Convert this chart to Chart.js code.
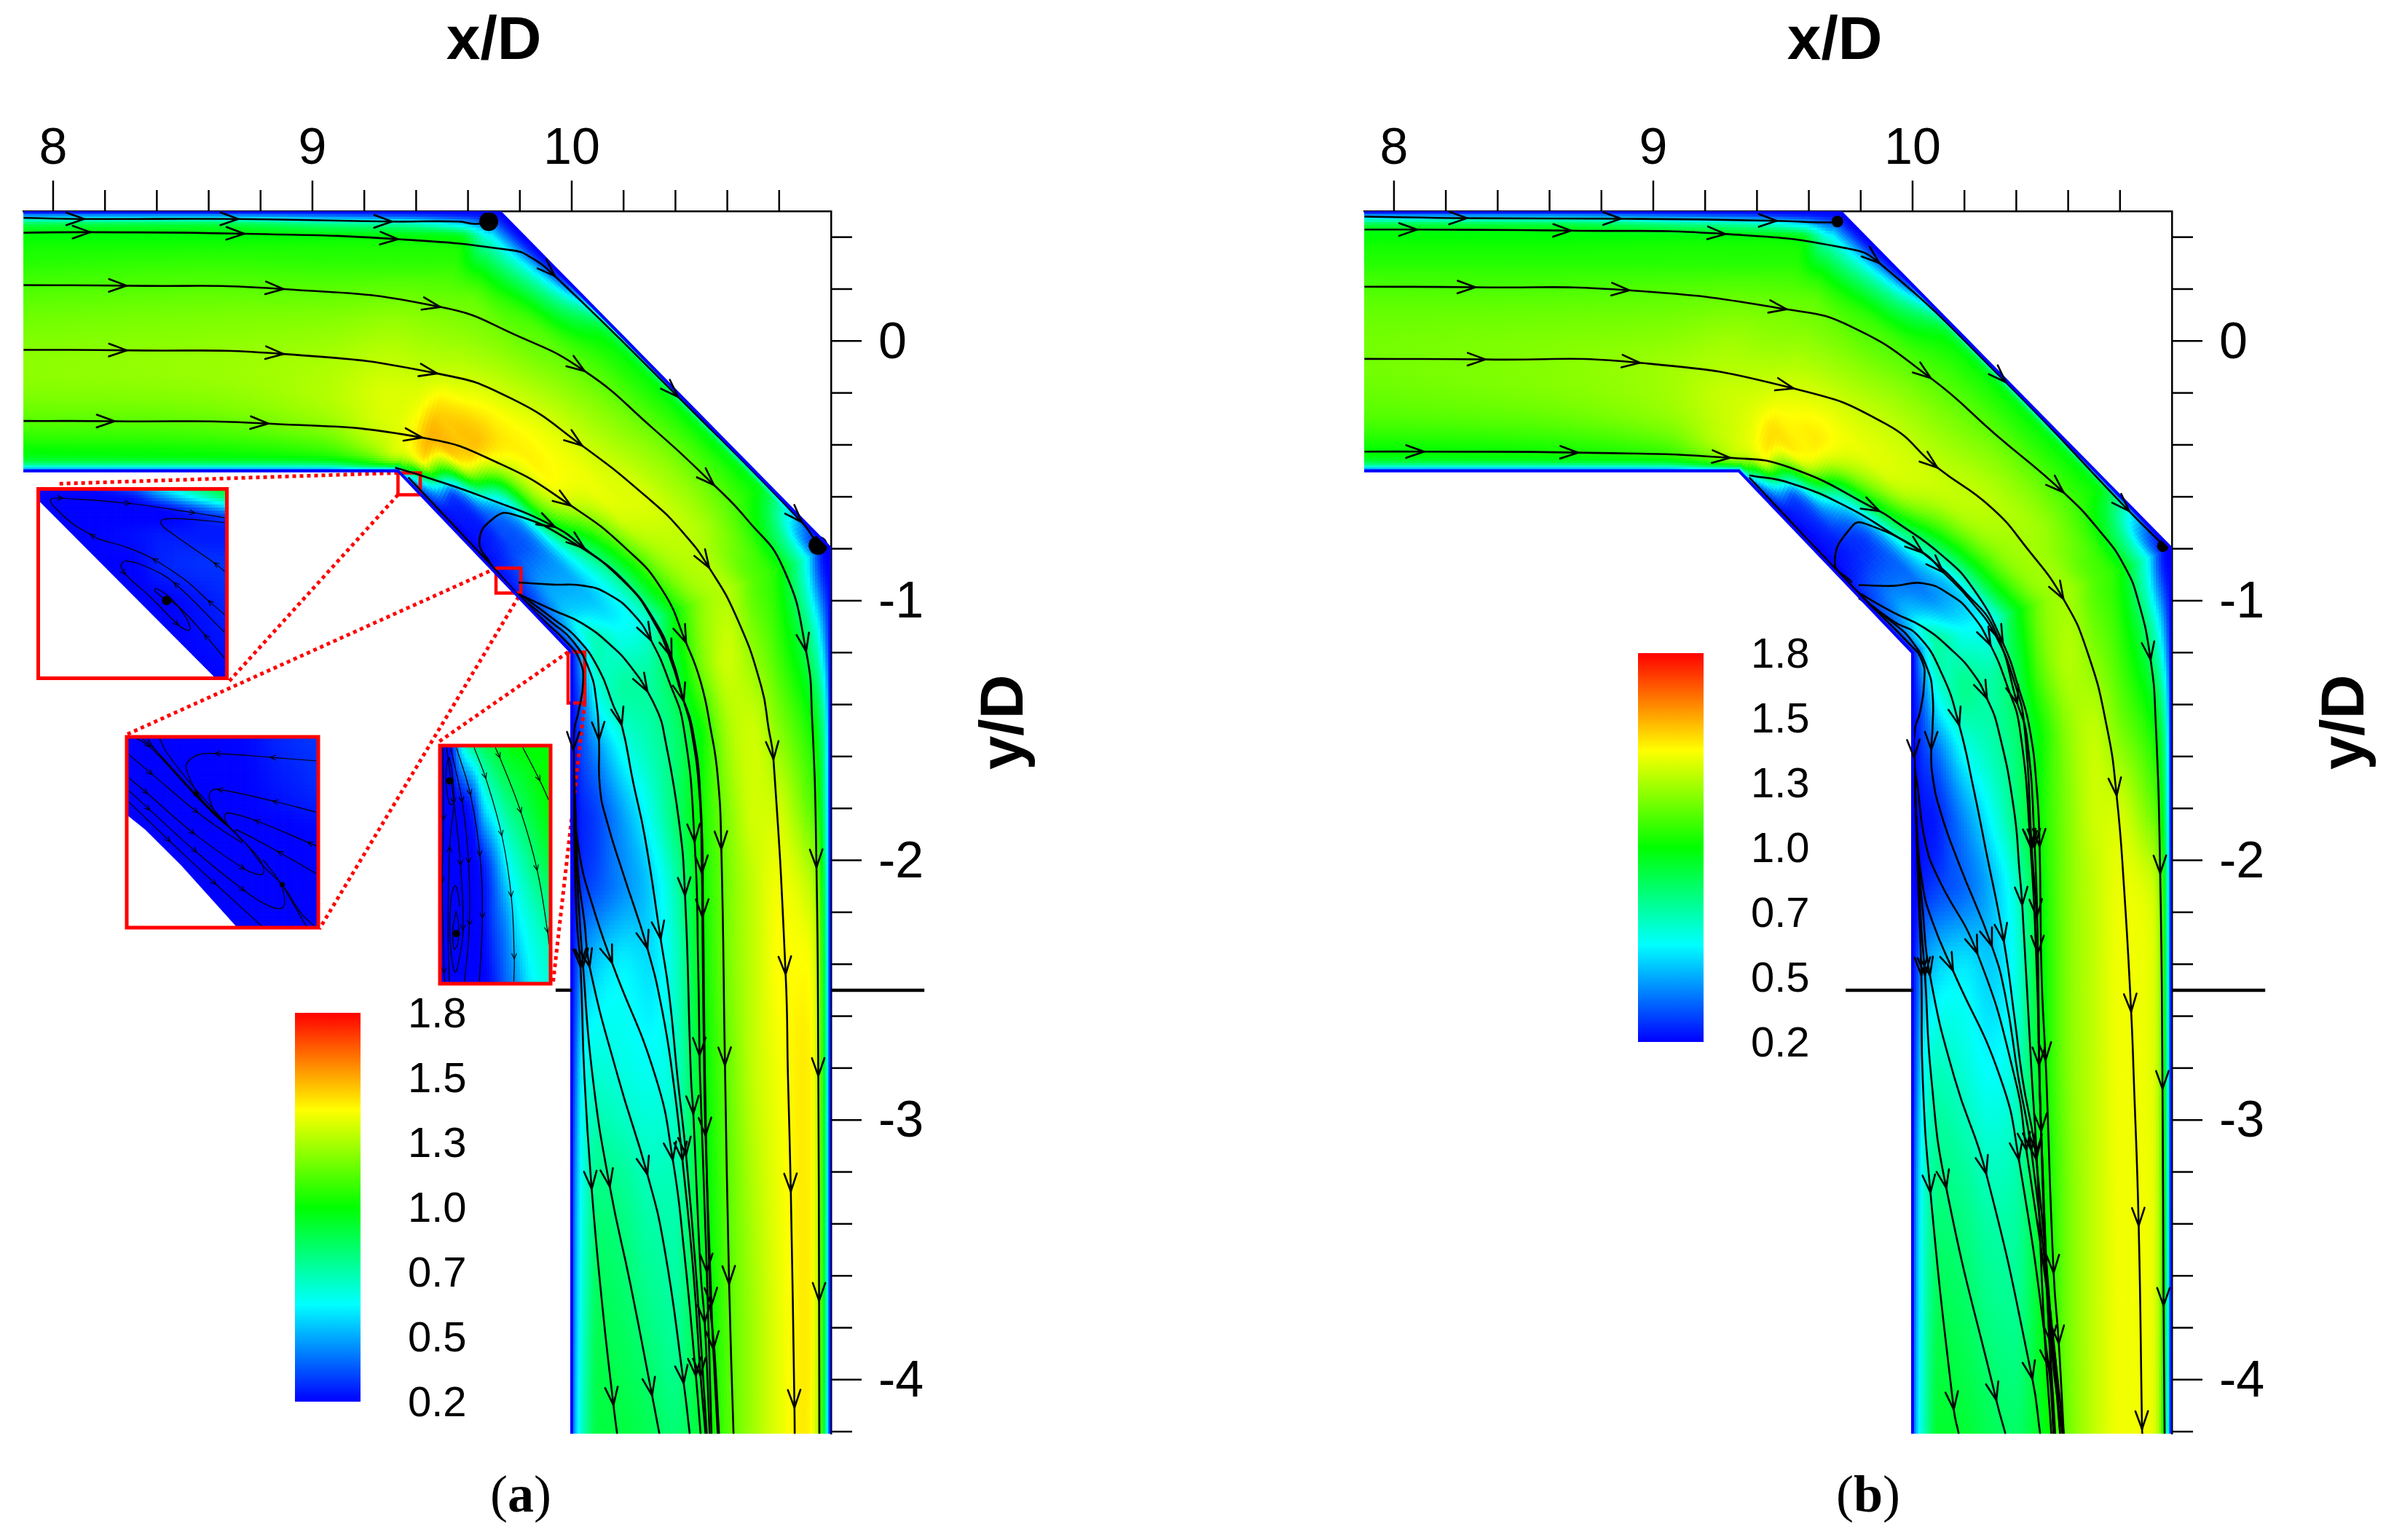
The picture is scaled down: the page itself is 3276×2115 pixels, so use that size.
<!DOCTYPE html>
<html>
<head>
<meta charset="utf-8">
<script src="https://cdn.jsdelivr.net/npm/chart.js@4"></script>
<style>
  html, body { margin: 0; background: #fff; width: 3276px; height: 2115px; overflow: hidden; }
  canvas { position: absolute; }
  .cap { position: absolute; top: 2011px; font: 72px "Liberation Serif"; color: #000; }
</style>
</head>
<body>
<canvas id="panelA" width="1638" height="2115" style="left:0;top:0"></canvas>
<canvas id="panelB" width="1638" height="2115" style="left:1638px;top:0"></canvas>
<canvas id="barA" width="300" height="640" style="left:395px;top:1340px"></canvas>
<canvas id="barB" width="300" height="640" style="left:2239px;top:846px"></canvas>
<canvas id="inset1" width="272" height="273" style="left:46px;top:665px"></canvas>
<canvas id="inset2" width="271" height="270" style="left:170px;top:1008px"></canvas>
<canvas id="inset3" width="162" height="337" style="left:599px;top:1019px"></canvas>
<div class="cap" style="left:673px">(<b>a</b>)</div>
<div class="cap" style="left:2521px">(<b>b</b>)</div>
<script>
// ============================================
// Axis data
// ============================================
const xTicks = [8, 8.2, 8.4, 8.6, 8.8, 9, 9.2, 9.4, 9.6, 9.8, 10, 10.2, 10.4, 10.6, 10.8];
const yTicks = [0.4, 0.2, 0, -0.2, -0.4, -0.6, -0.8, -1, -1.2, -1.4, -1.6, -1.8, -2, -2.2, -2.4, -2.6, -2.8, -3, -3.2, -3.4, -3.6, -3.8, -4, -4.2];
const barTicks = [0.2, 0.467, 0.733, 1, 1.267, 1.533, 1.8];
const gaugeY = -2.5;

// ============================================
// Channel walls and mesh stations (x/D, y/D)
// ============================================
const innerWall = [[7.885, -0.5], [9.33, -0.5], [10, -1.2], [10, -4.208]];
const outerWall = [[7.885, 0.5], [9.72, 0.5], [11, -0.8], [11, -4.208]];
const stationInner = [[7.885, -0.5], [8.6, -0.5], [9.05, -0.5], [9.2, -0.5], [9.33, -0.5], [9.4, -0.573], [9.5, -0.677], [9.6, -0.78], [9.7, -0.887], [9.8, -0.99], [9.9, -1.096], [10, -1.2], [10, -1.4], [10, -1.6], [10, -1.85], [10, -2.1], [10, -2.4], [10, -2.8], [10, -3.3], [10, -3.8], [10, -4.208]];
const stationOuter = [[7.885, 0.5], [8.6, 0.5], [9.05, 0.5], [9.4, 0.5], [9.6, 0.5], [9.72, 0.5], [9.95, 0.27], [10.15, 0.07], [10.35, -0.135], [10.55, -0.34], [10.75, -0.545], [11, -0.8], [11, -1.1], [11, -1.45], [11, -1.8], [11, -2.1], [11, -2.4], [11, -2.8], [11, -3.3], [11, -3.8], [11, -4.208]];
const acrossFrac = [0, 0.015, 0.04, 0.1, 0.2, 0.3, 0.4, 0.5, 0.6, 0.7, 0.8, 0.9, 0.95, 0.98, 1];

// velocity magnitude, one row per station, inner wall to outer wall
const fieldA = [
  [.2, .6, .9, 1.03, 1.14, 1.2, 1.22, 1.2, 1.17, 1.12, 1.06, 1.0, .88, .5, .2],
  [.2, .6, .92, 1.05, 1.16, 1.22, 1.24, 1.22, 1.19, 1.14, 1.08, 1.0, .9, .5, .2],
  [.2, .62, .95, 1.12, 1.24, 1.28, 1.27, 1.24, 1.2, 1.14, 1.07, 1.0, .8, .42, .2],
  [.2, .75, 1.05, 1.25, 1.33, 1.34, 1.31, 1.27, 1.22, 1.15, 1.07, 1.0, .72, .35, .2],
  [.2, .8, 1.2, 1.38, 1.38, 1.35, 1.3, 1.25, 1.2, 1.14, 1.07, .98, .55, .28, .2],
  [.25, .4, .7, 1.42, 1.52, 1.45, 1.33, 1.26, 1.2, 1.14, .96, .65, .38, .24, .2],
  [.2, .22, .25, .35, 1.35, 1.5, 1.43, 1.33, 1.25, 1.17, 1.08, .8, .55, .3, .2],
  [.2, .2, .22, .26, .6, 1.22, 1.42, 1.38, 1.3, 1.22, 1.14, 1.03, .96, .8, .25],
  [.22, .22, .24, .3, .4, 1.1, 1.37, 1.38, 1.32, 1.25, 1.17, 1.06, 1.0, .85, .25],
  [.22, .25, .3, .42, .45, .8, 1.12, 1.34, 1.35, 1.28, 1.2, 1.08, 1.0, .88, .25],
  [.22, .3, .38, .52, .5, .68, 1.0, 1.24, 1.3, 1.27, 1.17, 1.06, 1.0, .9, .25],
  [.2, .3, .48, .72, .62, .68, 1.0, 1.22, 1.28, 1.14, 1.02, .65, .32, .2, .2],
  [.2, .25, .35, .62, .75, .75, .9, 1.18, 1.32, 1.22, 1.08, .85, .62, .38, .2],
  [.2, .22, .3, .42, .62, .72, .82, 1.0, 1.25, 1.32, 1.2, 1.05, .92, .65, .2],
  [.2, .2, .25, .3, .45, .62, .82, 1.02, 1.2, 1.33, 1.33, 1.18, 1.06, .72, .2],
  [.2, .22, .28, .33, .42, .52, .72, 1.0, 1.18, 1.3, 1.38, 1.32, 1.2, .78, .2],
  [.2, .28, .42, .52, .58, .55, .68, .98, 1.18, 1.3, 1.4, 1.4, 1.28, .8, .2],
  [.2, .35, .58, .66, .64, .62, .68, .96, 1.15, 1.3, 1.38, 1.43, 1.3, .82, .2],
  [.2, .42, .62, .8, .78, .72, .72, .94, 1.13, 1.27, 1.37, 1.43, 1.3, .82, .2],
  [.2, .45, .65, .87, .85, .8, .76, .93, 1.12, 1.25, 1.36, 1.43, 1.3, .82, .2],
  [.2, .48, .68, .9, .9, .87, .82, .93, 1.12, 1.25, 1.36, 1.43, 1.28, .8, .2]
];
const fieldB = [
  [.2, .6, .92, 1.02, 1.12, 1.16, 1.18, 1.18, 1.16, 1.12, 1.06, 1.0, .88, .5, .2],
  [.2, .6, .95, 1.05, 1.15, 1.2, 1.21, 1.2, 1.17, 1.12, 1.06, 1.0, .9, .5, .2],
  [.2, .62, .98, 1.12, 1.22, 1.25, 1.25, 1.22, 1.18, 1.13, 1.06, 1.0, .8, .42, .2],
  [.2, .75, 1.08, 1.25, 1.3, 1.31, 1.28, 1.25, 1.2, 1.14, 1.06, 1.0, .72, .35, .2],
  [.2, .82, 1.2, 1.35, 1.36, 1.33, 1.28, 1.23, 1.19, 1.13, 1.06, .98, .55, .28, .2],
  [.25, .4, .7, 1.36, 1.45, 1.38, 1.31, 1.25, 1.19, 1.13, .96, .65, .38, .24, .2],
  [.2, .22, .26, .4, 1.28, 1.43, 1.38, 1.3, 1.23, 1.15, 1.06, .8, .55, .3, .2],
  [.2, .2, .22, .3, .65, 1.18, 1.36, 1.33, 1.27, 1.2, 1.12, 1.03, .96, .8, .25],
  [.2, .2, .22, .25, .36, .95, 1.28, 1.33, 1.28, 1.22, 1.15, 1.06, 1.0, .85, .25],
  [.22, .25, .3, .35, .36, .72, 1.06, 1.27, 1.3, 1.25, 1.17, 1.06, 1.0, .88, .25],
  [.22, .3, .38, .5, .42, .55, .95, 1.2, 1.26, 1.24, 1.15, 1.05, 1.0, .9, .25],
  [.2, .3, .5, .75, .62, .6, .95, 1.2, 1.25, 1.13, 1.02, .65, .32, .2, .2],
  [.2, .25, .35, .62, .78, .74, .88, 1.15, 1.28, 1.2, 1.08, .85, .62, .38, .2],
  [.2, .22, .28, .38, .62, .72, .82, 1.02, 1.22, 1.3, 1.18, 1.05, .92, .65, .2],
  [.2, .2, .22, .25, .42, .6, .8, 1.03, 1.2, 1.32, 1.33, 1.2, 1.08, .75, .2],
  [.2, .2, .25, .3, .36, .48, .68, 1.0, 1.2, 1.3, 1.37, 1.34, 1.24, .82, .2],
  [.2, .28, .42, .52, .56, .52, .64, .98, 1.2, 1.3, 1.38, 1.37, 1.28, .82, .2],
  [.2, .35, .58, .7, .66, .6, .68, .98, 1.2, 1.3, 1.38, 1.37, 1.28, .82, .2],
  [.2, .42, .64, .8, .78, .72, .74, .96, 1.18, 1.3, 1.38, 1.38, 1.28, .82, .2],
  [.2, .45, .66, .88, .86, .8, .78, .96, 1.18, 1.3, 1.38, 1.38, 1.28, .82, .2],
  [.2, .48, .68, .93, .92, .87, .84, .96, 1.17, 1.3, 1.38, 1.38, 1.27, .8, .2]
];

// ============================================
// Streamlines of panel (a). A third element marks an arrow head
// ============================================
const a1 = [[7.886, .474], [8.12, .47, 1], [8.714, .47, 1], [9.307, .46, 1], [9.563, .46], [9.63, .451], [9.68, .46]];
const a2 = [[7.886, .417], [8.144, .419, 1], [8.737, .413, 1], [9.33, .392, 1], [9.772, .349], [9.842, .322], [9.935, .25, 1], [10.41, -.215, 1], [10.888, -.698, 1], [10.95, -.787]];
const a3 = [[7.886, .215], [8.284, .213, 1], [8.888, .2, 1], [9.493, .131, 1], [9.795, .018], [10.05, -.116, 1], [10.307, -.331], [10.549, -.555, 1], [10.675, -.686], [10.815, -.873], [10.904, -1.195, 1], [10.927, -1.452], [10.944, -2.027, 1], [10.951, -2.83, 1], [10.954, -3.696, 1], [10.955, -4.208]];
const a4 = [[7.886, -.034], [8.284, -.036, 1], [8.888, -.05, 1], [9.481, -.125, 1], [9.772, -.224], [10.04, -.403, 1], [10.301, -.611], [10.432, -.741], [10.53, -.873, 1], [10.638, -1.069], [10.731, -1.33], [10.759, -1.49], [10.778, -1.611, 1], [10.825, -2.439, 1], [10.834, -2.836], [10.845, -3.275, 1], [10.859, -4.108, 1], [10.86, -4.208]];
const a5 = [[7.886, -.308], [8.237, -.309, 1], [8.83, -.318, 1], [9.423, -.372, 1], [9.726, -.474], [9.997, -.634, 1], [10.208, -.798], [10.348, -.957], [10.441, -1.162, 1], [10.497, -1.312], [10.535, -1.49], [10.563, -1.676], [10.577, -1.957, 1], [10.591, -2.789, 1], [10.607, -3.631, 1], [10.624, -4.208]];
const a6 = [[9.319, -.488], [9.423, -.519], [9.679, -.608], [9.935, -.716, 1], [10.049, -.798, 1], [10.208, -.929], [10.32, -1.078], [10.385, -1.218, 1], [10.432, -1.387, 1], [10.46, -1.49], [10.493, -1.751], [10.502, -2.05, 1], [10.504, -2.219, 1], [10.511, -2.836], [10.516, -3.06, 1], [10.539, -3.715, 1], [10.546, -3.883, 1], [10.563, -4.208]];
const a7 = [[9.691, -.865], [9.644, -.769], [9.702, -.68], [9.772, -.667], [9.993, -.769], [10.208, -.933], [10.32, -1.088], [10.385, -1.237], [10.423, -1.359], [10.465, -1.49], [10.497, -1.77], [10.507, -2.237], [10.514, -2.836], [10.535, -3.715], [10.55, -3.883], [10.568, -4.208]];
const a8 = [[9.795, -.93], [9.927, -.938], [10.049, -.943], [10.142, -.975], [10.236, -1.05], [10.306, -1.153, 1], [10.376, -1.312], [10.432, -1.49], [10.474, -1.929, 1], [10.488, -2.425], [10.493, -2.752, 1], [10.495, -2.836], [10.521, -3.584, 1], [10.539, -4.208]];
const a9 = [[9.795, -.975], [9.927, -1.036], [10.039, -1.087], [10.161, -1.181], [10.236, -1.265], [10.292, -1.349, 1], [10.338, -1.443], [10.352, -1.49], [10.413, -1.845], [10.437, -2.135, 1], [10.46, -2.836], [10.469, -2.976, 1], [10.497, -3.584], [10.513, -3.78, 1], [10.532, -4.208]];
const a10 = [[9.8, -.975], [9.927, -1.069], [10.02, -1.144], [10.105, -1.265], [10.161, -1.405], [10.193, -1.48, 1], [10.236, -1.695], [10.282, -1.91], [10.343, -2.303, 1], [10.376, -2.518], [10.408, -2.836], [10.441, -3.135, 1], [10.479, -3.584], [10.521, -4.208]];
const a11 = [[9.8, -.985], [9.927, -1.087], [10.002, -1.153], [10.067, -1.265], [10.095, -1.387], [10.105, -1.536, 1], [10.109, -1.723], [10.137, -1.854], [10.198, -2.05], [10.292, -2.34, 1], [10.348, -2.574], [10.39, -2.836], [10.427, -3.154, 1], [10.469, -3.584], [10.497, -3.986, 1], [10.516, -4.208]];
const a12 = [[9.37, -.525], [9.691, -.865], [9.842, -1.029], [9.983, -1.162], [10.03, -1.228], [10.044, -1.312], [10.025, -1.433], [10.011, -1.49], [10.006, -1.574, 1], [10.011, -1.77], [10.03, -1.976], [10.077, -2.163], [10.156, -2.396, 1], [10.324, -2.836], [10.39, -3.154, 1], [10.432, -3.491], [10.479, -3.986, 1], [10.497, -4.208]];
const a13 = [[10.006, -1.574], [10.013, -1.77], [10.025, -2.05], [10.049, -2.237], [10.069, -2.41, 1], [10.179, -2.836], [10.292, -3.21, 1], [10.357, -3.491], [10.432, -4.014, 1], [10.455, -4.208]];
const a14 = [[10.006, -1.574], [10.011, -1.77], [10.02, -2.05], [10.044, -2.41, 1], [10.081, -2.836], [10.147, -3.257, 1], [10.226, -3.631], [10.31, -4.061, 1], [10.338, -4.208]];
const a15 = [[10.006, -1.574], [10.011, -1.957], [10.02, -2.237], [10.034, -2.41, 1], [10.049, -2.836], [10.077, -3.266, 1], [10.119, -3.724], [10.161, -4.098, 1], [10.175, -4.208]];
const streamsA = [a1, a2, a3, a4, a5, a6, a7, a8, a9, a10, a11, a12, a13, a14, a15];
const coresA = [[9.68, .46], [10.95, -.787]];

// ============================================
// Streamlines of panel (b)
// ============================================
const b1 = [[7.886, .479], [8.282, .473, 1], [8.876, .471, 1], [9.476, .463, 1], [9.634, .457], [9.713, .457]];
const b2 = [[7.886, .429], [8.089, .429, 1], [8.683, .425, 1], [9.278, .412, 1], [9.74, .358], [9.872, .3, 1], [10.36, -.159, 1], [10.835, -.655, 1], [10.97, -.789]];
const b3 = [[7.886, .209], [8.314, .207, 1], [8.908, .195, 1], [9.515, .122, 1], [9.766, .054], [10.07, -.143, 1], [10.32, -.36], [10.582, -.583, 1], [10.722, -.732], [10.815, -.863], [10.871, -1.003], [10.918, -1.228, 1], [10.937, -1.452], [10.955, -2.05, 1], [10.964, -2.88, 1], [10.968, -3.715, 1], [10.972, -4.208]];
const b4 = [[7.886, -.069], [8.353, -.071, 1], [8.948, -.084, 1], [9.542, -.183, 1], [9.898, -.32], [10.096, -.488, 1], [10.301, -.639], [10.441, -.798], [10.582, -.994, 1], [10.675, -1.2], [10.75, -1.49], [10.787, -1.751, 1], [10.815, -2.097], [10.843, -2.583, 1], [10.853, -2.836], [10.872, -3.407, 1], [10.885, -4.19, 1], [10.886, -4.208]];
const b5 = [[7.886, -.426], [8.116, -.426, 1], [8.71, -.43, 1], [9.296, -.45, 1], [9.528, -.488], [9.872, -.655, 1], [9.927, -.69], [10.114, -.826], [10.236, -.957], [10.348, -1.162, 1], [10.413, -1.349], [10.451, -1.49], [10.479, -1.723], [10.49, -1.948, 1], [10.497, -2.425], [10.513, -2.77, 1], [10.516, -2.836], [10.544, -3.589, 1], [10.564, -3.861, 1], [10.583, -4.208]];
const b6 = [[9.37, -.517], [9.528, -.547], [9.75, -.64], [9.927, -.746], [10.04, -.816, 1], [10.21, -.975], [10.32, -1.12], [10.404, -1.396, 1], [10.44, -1.518], [10.471, -1.948, 1], [10.483, -2.359], [10.49, -2.836], [10.515, -3.589], [10.55, -4.208]];
const b7 = [[9.766, -.93], [9.7, -.852], [9.766, -.714], [9.819, -.704], [10.035, -.812], [10.119, -.891, 1], [10.226, -1.003], [10.32, -1.134], [10.395, -1.321], [10.432, -1.49], [10.46, -1.957, 1], [10.479, -2.219, 1], [10.483, -2.359, 1], [10.488, -2.789, 1], [10.496, -3.044], [10.516, -3.589], [10.544, -4.208]];
const b8 = [[9.792, -.94], [9.927, -.943], [10.039, -.933], [10.142, -.975], [10.226, -1.05], [10.301, -1.172, 1], [10.366, -1.331], [10.413, -1.49], [10.455, -1.948, 1], [10.479, -2.425], [10.488, -2.77], [10.496, -3.044, 1], [10.535, -3.861, 1], [10.578, -4.208]];
const b9 = [[9.792, -.97], [9.927, -1.046], [10.039, -1.101], [10.151, -1.19], [10.236, -1.284], [10.287, -1.377, 1], [10.329, -1.49], [10.39, -1.798], [10.413, -2.05], [10.423, -2.172, 1], [10.46, -2.836], [10.478, -3.125, 1], [10.506, -3.77], [10.535, -4.208]];
const b10 = [[9.792, -.98], [9.927, -1.08], [10.02, -1.134], [10.114, -1.284], [10.18, -1.48, 1], [10.235, -1.723], [10.282, -1.957], [10.352, -2.312, 1], [10.394, -2.612], [10.423, -2.836], [10.477, -3.153, 1], [10.569, -4.208]];
const b11 = [[9.792, -.99], [9.927, -1.087], [10.002, -1.162], [10.058, -1.265], [10.077, -1.359], [10.077, -1.49], [10.072, -1.574, 1], [10.077, -1.676], [10.109, -1.817], [10.179, -2.013], [10.306, -2.331, 1], [10.357, -2.518], [10.408, -2.836], [10.458, -3.117, 1], [10.583, -4.208]];
const b12 = [[9.37, -.525], [9.691, -.865], [9.842, -1.02], [9.983, -1.162], [10.035, -1.228], [10.045, -1.312], [10.028, -1.433], [10.01, -1.49], [10.006, -1.604, 1], [10.02, -1.723], [10.049, -1.929], [10.095, -2.06], [10.25, -2.359, 1], [10.394, -2.836], [10.439, -3.117, 1], [10.544, -3.861], [10.569, -4.208]];
const b13 = [[10.006, -1.604], [10.016, -1.864], [10.039, -2.097], [10.077, -2.237], [10.156, -2.425, 1], [10.338, -2.836], [10.41, -3.153, 1], [10.525, -3.952, 1], [10.544, -4.208]];
const b14 = [[10.006, -1.604], [10.02, -1.957], [10.039, -2.19], [10.067, -2.443, 1], [10.161, -2.836], [10.284, -3.207, 1], [10.462, -3.997, 1], [10.492, -4.208]];
const b15 = [[10.006, -1.604], [10.011, -1.77], [10.03, -2.2], [10.048, -2.443, 1], [10.072, -2.836], [10.13, -3.262, 1], [10.323, -4.079, 1], [10.358, -4.208]];
const b16 = [[10.006, -1.604], [10.011, -1.77], [10.02, -2.05], [10.034, -2.443, 1], [10.039, -2.836], [10.069, -3.28, 1], [10.159, -4.115, 1], [10.178, -4.208]];
const streamsB = [b1, b2, b3, b4, b5, b6, b7, b8, b9, b10, b11, b12, b13, b14, b15, b16];
const coresB = [[9.71, .46], [10.965, -.79]];

// ============================================
// Zoom windows on panel (a): source boxes and dotted leader lines
// ============================================
const zoomBox1 = [[9.33, -.508], [9.416, -.508], [9.416, -.592], [9.33, -.592], [9.33, -.508]];
const zoomBox2 = [[9.708, -.875], [9.804, -.875], [9.804, -.971], [9.708, -.971], [9.708, -.875]];
const zoomBox3 = [[9.986, -1.198], [10.05, -1.198], [10.05, -1.394], [9.986, -1.394], [9.986, -1.198]];
const leader1 = [[9.33, -.508], [8.014, -.55]];
const leader2 = [[9.33, -.592], [8.679, -1.31]];
const leader3 = [[9.708, -.875], [8.278, -1.518]];
const leader4 = [[9.795, -.985], [9.027, -2.264]];
const leader5 = [[9.986, -1.198], [9.481, -1.548]];
const leader6 = [[10.05, -1.394], [9.927, -2.48]];

// window contents, in fractions of each window (v runs downward)
const inset1U = [0, .25, .5, .65, .8, 1];
const inset1V = [0, .05, .1, .15, .25, .4, .6, 1];
const inset1Field = [
  [.2, .2, .33, .55, .75, 1],
  [.2, .2, .22, .38, .56, .8],
  [.2, .2, .2, .22, .32, .52],
  [.2, .2, .2, .2, .22, .3],
  [.2, .2, .22, .24, .24, .24],
  [.2, .2, .2, .25, .27, .28],
  [.2, .2, .2, .2, .22, .26],
  [.2, .2, .2, .2, .2, .2]
];
const inset1Mask = [[-.01, .05], [-.01, 1.01], [.95, 1.01]];
const inset1Lines = [
  [[.9875, .663], [.9, .589, 1], [.781, .483], [.606, .368, 1], [.469, .308], [.319, .264], [.275, .239, 1], [.181, .183], [.081, .09], [.064, .061], [.081, .049], [.131, .049, 1], [.4875, .077, 1], [.831, .127, 1], [.9875, .152]],
  [[.9875, .435], [.931, .389, 1], [.706, .233], [.65, .183], [.662, .161], [.769, .158], [.9875, .177]],
  [[.9875, .757], [.719, .495, 1], [.594, .42], [.469, .38], [.439, .401], [.4625, .451, 1], [.594, .57], [.744, .72, 1], [.794, .747], [.806, .732], [.769, .657], [.694, .57], [.625, .526], [.619, .539], [.681, .589]],
  [[.9875, .894], [.881, .769, 1], [.769, .645], [.69, .58]]
];
const inset1Core = [[.681, .589]];

const inset2U = [0, .6, .8, 1];
const inset2V = [0, .3, .5, 1];
const inset2Field = [
  [.2, .21, .26, .29],
  [.2, .2, .23, .26],
  [.2, .2, .2, .21],
  [.2, .2, .2, .2]
];
const inset2Mask = [[-.01, .4], [.097, .487], [.285, .675], [.586, 1.01], [-.01, 1.01]];
const inset2Lines = [
  [[.99, .126], [.749, .107, 1], [.46, .087, 1], [.373, .094], [.316, .135], [.312, .172], [.36, .279], [.435, .386], [.561, .499], [.605, .55]],
  [[.99, .395], [.762, .336, 1], [.473, .275, 1], [.435, .292], [.435, .336], [.473, .411], [.561, .499]],
  [[.99, .572], [.944, .552, 1], [.667, .436, 1], [.536, .399], [.511, .411], [.523, .455], [.561, .499]],
  [[.99, .717], [.787, .6, 1], [.573, .487], [.567, .499], [.624, .562], [.711, .675], [.812, .776], [.912, .927], [.981, .992]],
  [[.0125, .094], [.134, .197, 1], [.373, .399, 1], [.523, .506], [.605, .556]],
  [[.0125, .216], [.109, .298, 1], [.354, .509, 1], [.617, .694, 1], [.686, .721], [.714, .713], [.699, .65], [.624, .562]],
  [[.0125, .283], [.122, .384, 1], [.366, .606, 1], [.617, .808, 1], [.749, .889], [.812, .896], [.824, .852], [.8, .764], [.711, .644]],
  [[.0125, .342], [.228, .55, 1], [.467, .774, 1], [.705, .992]],
  [[.053, .009], [.122, .053, 1], [.347, .292], [.523, .462], [.561, .499]],
  [[.078, .009], [.134, .053], [.36, .298], [.561, .499]],
  [[.109, .009], [.147, .065], [.373, .323], [.561, .499]],
  [[.172, .009], [.21, .084], [.347, .26], [.561, .499]],
  [[.812, .776], [.937, .992]]
];
const inset2Core = [[.36, .298], [.812, .774]];

const inset3U = [0, .1, .2, .3, .4, .5, .6, .7, .8, .9, 1];
const inset3V = [0, .25, .5, .75, 1];
const inset3Field = [
  [.2, .22, .6, .78, .86, .92, .97, 1, 1, 1, 1],
  [.2, .2, .2, .28, .55, .68, .78, .84, .9, .96, 1],
  [.2, .2, .2, .2, .25, .4, .58, .68, .76, .84, .9],
  [.2, .2, .2, .2, .22, .32, .42, .56, .64, .7, .76],
  [.2, .2, .2, .2, .2, .26, .36, .44, .56, .62, .66]
];
const inset3Lines = [
  [[.149, .008], [.277, .208, 1], [.362, .464, 1], [.383, .725, 1], [.357, .991]],
  [[.309, .008], [.415, .138, 1], [.56, .379, 1], [.645, .635, 1], [.672, .896, 1], [.668, .991]],
  [[.5, .008], [.543, .052, 1], [.734, .283, 1], [.879, .524, 1], [.974, .785, 1], [.985, .835]],
  [[.749, .008], [.904, .148, 1], [.983, .228]],
  [[.096, .008], [.202, .238, 1], [.26, .494, 1], [.266, .755, 1], [.223, .991]],
  [[.06, .008], [.128, .243, 1], [.187, .504, 1], [.209, .775, 1], [.17, .906], [.138, .951], [.102, .875], [.089, .755], [.106, .625], [.143, .589], [.181, .675]],
  [[.145, .695], [.17, .755], [.159, .835], [.128, .855], [.117, .775], [.145, .695]],
  [[.026, .008], [.032, .313, 1], [.021, .574, 1], [.038, .956, 1], [.043, .991]],
  [[.085, .991], [.074, .775], [.089, .424, 1], [.128, .243]],
  [[.064, .072], [.085, .052], [.117, .143], [.123, .243], [.085, .243], [.053, .143], [.064, .072]]
];
const inset3Core = [[.089, .148], [.149, .79]];

// ============================================
// Colour map: blue-cyan-green-yellow-red over 0.2 to 1.8
// ============================================
function jet(v) {
  const t = Math.min(4, Math.max(0, (v - 0.2) / 1.6 * 4));
  let r = 0, g = 0, b = 0;
  if (t < 1) { g = t * 255; b = 255; }
  else if (t < 2) { g = 255; b = (2 - t) * 255; }
  else if (t < 3) { r = (t - 2) * 255; g = 255; }
  else { r = 255; g = (4 - t) * 255; }
  return "rgb(" + Math.round(r) + "," + Math.round(g) + "," + Math.round(b) + ")";
}

function toXY(pts) {
  return pts.map((p) => ({ x: p[0], y: p[1] }));
}

// monotone shading between two table entries, so the mesh leaves no creases
function shade(xs, ys, i, t) {
  const last = xs.length - 1;
  const slope = (k) => (k === 0 || k === last
    ? (k === 0 ? (ys[1] - ys[0]) / (xs[1] - xs[0]) : (ys[last] - ys[last - 1]) / (xs[last] - xs[last - 1]))
    : (ys[k + 1] - ys[k - 1]) / (xs[k + 1] - xs[k - 1]));
  const h = xs[i + 1] - xs[i], d = ys[i + 1] - ys[i];
  let m0 = slope(i) * h, m1 = slope(i + 1) * h;
  if (d === 0) { m0 = 0; m1 = 0; }
  else {
    if (m0 / d < 0) m0 = 0;
    if (m1 / d < 0) m1 = 0;
    if (m0 / d > 3) m0 = 3 * d;
    if (m1 / d > 3) m1 = 3 * d;
  }
  const t2 = t * t, t3 = t2 * t;
  return (2 * t3 - 3 * t2 + 1) * ys[i] + (t3 - 2 * t2 + t) * m0 + (3 * t2 - 2 * t3) * ys[i + 1] + (t3 - t2) * m1;
}

// Shaded mesh: each quad between two stations is filled through the chart scales
function fieldPlugin(inner, outer, across, rows, mask) {
  const along = [0];
  for (let i = 1; i < rows.length; i++) {
    const mx0 = (inner[i - 1][0] + outer[i - 1][0]) / 2, my0 = (inner[i - 1][1] + outer[i - 1][1]) / 2;
    const mx1 = (inner[i][0] + outer[i][0]) / 2, my1 = (inner[i][1] + outer[i][1]) / 2;
    along.push(along[i - 1] + Math.hypot(mx1 - mx0, my1 - my0));
  }
  return {
    id: "field",
    beforeDatasetsDraw(chart) {
      const { ctx, scales: { x: sx, y: sy }, chartArea: area } = chart;
      const px = (p) => [sx.getPixelForValue(p[0]), sy.getPixelForValue(p[1])];
      ctx.save();
      ctx.beginPath();
      ctx.rect(area.left, area.top, area.right - area.left, area.bottom - area.top);
      ctx.clip();
      ctx.lineWidth = 1;
      for (let i = 0; i + 1 < rows.length; i++) {
        const a0 = px(inner[i]), b0 = px(outer[i]), a1 = px(inner[i + 1]), b1 = px(outer[i + 1]);
        const near = [i - 1, i, i + 1, i + 2].filter((k) => k >= 0 && k < rows.length);
        for (let j = 0; j + 1 < across.length; j++) {
          const f0 = across[j], f1 = across[j + 1];
          const c00 = [a0[0] + (b0[0] - a0[0]) * f0, a0[1] + (b0[1] - a0[1]) * f0];
          const c01 = [a0[0] + (b0[0] - a0[0]) * f1, a0[1] + (b0[1] - a0[1]) * f1];
          const c10 = [a1[0] + (b1[0] - a1[0]) * f0, a1[1] + (b1[1] - a1[1]) * f0];
          const c11 = [a1[0] + (b1[0] - a1[0]) * f1, a1[1] + (b1[1] - a1[1]) * f1];
          const lenS = Math.max(Math.hypot(c10[0] - c00[0], c10[1] - c00[1]), Math.hypot(c11[0] - c01[0], c11[1] - c01[1]));
          const lenN = Math.max(Math.hypot(c01[0] - c00[0], c01[1] - c00[1]), Math.hypot(c11[0] - c10[0], c11[1] - c10[1]));
          const ns = Math.max(1, Math.ceil(lenS / 6)), nn = Math.max(1, Math.ceil(lenN / 4));
          const at = (s, t) => [
            (1 - s) * ((1 - t) * c00[0] + t * c01[0]) + s * ((1 - t) * c10[0] + t * c11[0]),
            (1 - s) * ((1 - t) * c00[1] + t * c01[1]) + s * ((1 - t) * c10[1] + t * c11[1])
          ];
          for (let q = 0; q < nn; q++) {
            const t = (q + 0.5) / nn;
            const col = new Array(rows.length);
            near.forEach((k) => { col[k] = shade(across, rows[k], j, t); });
            for (let p = 0; p < ns; p++) {
              const s = (p + 0.5) / ns;
              const color = jet(shade(along, col, i, s));
              const p1 = at(p / ns, q / nn), p2 = at(p / ns, (q + 1) / nn), p3 = at((p + 1) / ns, (q + 1) / nn), p4 = at((p + 1) / ns, q / nn);
              ctx.fillStyle = color;
              ctx.strokeStyle = color;
              ctx.beginPath();
              ctx.moveTo(p1[0], p1[1]);
              ctx.lineTo(p2[0], p2[1]);
              ctx.lineTo(p3[0], p3[1]);
              ctx.lineTo(p4[0], p4[1]);
              ctx.closePath();
              ctx.fill();
              ctx.stroke();
            }
          }
        }
      }
      if (mask) {
        ctx.fillStyle = "#fff";
        ctx.beginPath();
        mask.forEach((m, k) => {
          const c = px(m);
          if (k === 0) ctx.moveTo(c[0], c[1]);
          else ctx.lineTo(c[0], c[1]);
        });
        ctx.closePath();
        ctx.fill();
      }
      ctx.restore();
    },
  };
}

// Open arrow heads on every vertex flagged in a streamline
function arrowPlugin(streams, barb, spread, width) {
  return {
    id: "arrows",
    afterDatasetsDraw(chart) {
      const { ctx, scales: { x: sx, y: sy } } = chart;
      ctx.save();
      ctx.strokeStyle = "#000";
      ctx.lineWidth = width;
      ctx.lineCap = "round";
      streams.forEach((line) => {
        line.forEach((p, i) => {
          if (!p[2]) return;
          const prev = line[Math.max(0, i - 1)], next = line[Math.min(line.length - 1, i + 1)];
          const tx = sx.getPixelForValue(p[0]), ty = sy.getPixelForValue(p[1]);
          const ang = Math.atan2(sy.getPixelForValue(next[1]) - sy.getPixelForValue(prev[1]), sx.getPixelForValue(next[0]) - sx.getPixelForValue(prev[0]));
          [spread, -spread].forEach((d) => {
            ctx.beginPath();
            ctx.moveTo(tx, ty);
            ctx.lineTo(tx - barb * Math.cos(ang + d), ty - barb * Math.sin(ang + d));
            ctx.stroke();
          });
        });
      });
      ctx.restore();
    },
  };
}

// Major and minor tick marks, gauge stubs and the two axis titles
function framePlugin(gaugeLeft, gaugeRight) {
  return {
    id: "frame",
    afterDraw(chart) {
      const { ctx, scales: { x: sx, y: sy }, chartArea: area } = chart;
      ctx.save();
      ctx.strokeStyle = "#000";
      ctx.lineWidth = 2.5;
      xTicks.forEach((v) => {
        const px = sx.getPixelForValue(v), len = Number.isInteger(v) ? 42 : 29;
        ctx.beginPath();
        ctx.moveTo(px, area.top);
        ctx.lineTo(px, area.top - len);
        ctx.stroke();
      });
      yTicks.forEach((v) => {
        const py = sy.getPixelForValue(v), len = Number.isInteger(v) ? 42 : 29;
        ctx.beginPath();
        ctx.moveTo(area.right, py);
        ctx.lineTo(area.right + len, py);
        ctx.stroke();
      });
      ctx.lineWidth = 4.5;
      const gy = sy.getPixelForValue(gaugeY);
      [[gaugeLeft, 10], [11, gaugeRight]].forEach((seg) => {
        ctx.beginPath();
        ctx.moveTo(sx.getPixelForValue(seg[0]), gy);
        ctx.lineTo(sx.getPixelForValue(seg[1]), gy);
        ctx.stroke();
      });
      ctx.fillStyle = "#000";
      ctx.font = "bold 84px 'Liberation Sans'";
      ctx.textAlign = "center";
      ctx.textBaseline = "middle";
      ctx.fillText("x/D", sx.getPixelForValue(9.7), 58);
      ctx.translate(area.right + 240, 992);
      ctx.rotate(-Math.PI / 2);
      ctx.fillText("y/D", 0, 0);
      ctx.restore();
    },
  };
}

const lineDefaults = { showLine: true, pointRadius: 0, borderColor: "#000", borderWidth: 2.6, tension: 0.5, fill: false };

// ============================================
// Main panel
// ============================================
function drawPanel(id, rows, streams, cores, coreSize, padLeft, rightWidth, gaugeLeft, extra) {
  const datasets = [
    { ...lineDefaults, data: toXY(innerWall), borderColor: "#0000ff", borderWidth: 4, tension: 0 },
    { ...lineDefaults, data: toXY(outerWall), borderColor: "#0000ff", borderWidth: 4, tension: 0 },
  ];
  streams.forEach((line) => datasets.push({ ...lineDefaults, data: toXY(line) }));
  datasets.push({ data: toXY(cores), pointRadius: coreSize, pointBackgroundColor: "#000", pointBorderWidth: 0, showLine: false });
  extra.forEach((d) => datasets.push(d));
  return new Chart(document.getElementById(id), {
    type: "scatter",
    data: { datasets },
    options: {
      responsive: false,
      animation: false,
      devicePixelRatio: 1,
      events: [],
      layout: { padding: { left: padLeft, right: 0, top: 0, bottom: 146 } },
      plugins: { legend: { display: false }, tooltip: { enabled: false } },
      scales: {
        x: {
          type: "linear", position: "top", min: 7.885, max: 11,
          afterBuildTicks: (s) => { s.ticks = xTicks.map((v) => ({ value: v })); },
          afterFit: (s) => { s.height = 290; s.paddingLeft = 0; s.paddingRight = 0; },
          grid: { display: false, drawTicks: false },
          border: { display: true, color: "#000", width: 2.5 },
          ticks: {
            autoSkip: false, maxRotation: 0, padding: 42, color: "#000",
            font: { family: "Liberation Sans", size: 70 },
            callback: (v) => (Number.isInteger(v) ? String(v) : ""),
          },
        },
        y: {
          type: "linear", position: "right", min: -4.208, max: 0.5,
          afterBuildTicks: (s) => { s.ticks = yTicks.map((v) => ({ value: v })); },
          afterFit: (s) => { s.width = rightWidth; s.paddingTop = 0; s.paddingBottom = 0; },
          grid: { display: false, drawTicks: false },
          border: { display: true, color: "#000", width: 2.5 },
          ticks: {
            autoSkip: false, padding: 65, labelOffset: 4, color: "#000",
            font: { family: "Liberation Sans", size: 70 },
            callback: (v) => (Number.isInteger(v) ? String(v) : ""),
          },
        },
      },
    },
    plugins: [
      fieldPlugin(stationInner, stationOuter, acrossFrac, rows),
      arrowPlugin(streams, 26, 0.34, 2.6),
      framePlugin(gaugeLeft, 11.36),
    ],
  });
}

// ============================================
// Colour bar
// ============================================
function drawBar(id) {
  return new Chart(document.getElementById(id), {
    type: "bar",
    data: {
      labels: [""],
      datasets: [{
        data: [[0.2, 1.8]],
        barPercentage: 1,
        categoryPercentage: 1,
        borderWidth: 0,
        backgroundColor: (c) => {
          const area = c.chart.chartArea;
          if (!area) return "#000";
          const g = c.chart.ctx.createLinearGradient(0, area.bottom, 0, area.top);
          [0.2, 0.6, 1.0, 1.4, 1.8].forEach((v, i) => g.addColorStop(i / 4, jet(v)));
          return g;
        },
      }],
    },
    options: {
      responsive: false,
      animation: false,
      devicePixelRatio: 1,
      events: [],
      layout: { padding: { left: 10, right: 0, top: 51, bottom: 55 } },
      plugins: { legend: { display: false }, tooltip: { enabled: false } },
      scales: {
        x: { display: false },
        y: {
          position: "right", min: 0.2, max: 1.8,
          afterBuildTicks: (s) => { s.ticks = barTicks.map((v) => ({ value: v })); },
          afterFit: (s) => { s.width = 200; s.paddingTop = 0; s.paddingBottom = 0; },
          grid: { display: false, drawTicks: false },
          border: { display: false },
          ticks: {
            autoSkip: false, padding: 65, labelOffset: 4, color: "#000",
            font: { family: "Liberation Sans", size: 58 },
            callback: (v) => v.toFixed(1),
          },
        },
      },
    },
  });
}

// ============================================
// Zoom windows
// ============================================
function drawInset(id, us, vs, rows, mask, lines, core, coreSize) {
  const inner = vs.map((v) => [0, v]);
  const outer = vs.map((v) => [1, v]);
  const framePart = {
    id: "redFrame",
    afterDraw(chart) {
      const { ctx, chartArea: a } = chart;
      ctx.save();
      ctx.strokeStyle = "#ff0000";
      ctx.lineWidth = 5;
      ctx.strokeRect(a.left, a.top, a.right - a.left, a.bottom - a.top);
      ctx.restore();
    },
  };
  const datasets = lines.map((line) => ({ ...lineDefaults, borderWidth: 1.2, tension: 0.4, data: toXY(line) }));
  datasets.push({ data: toXY(core), pointRadius: coreSize, pointBackgroundColor: "#000", pointBorderWidth: 0, showLine: false });
  return new Chart(document.getElementById(id), {
    type: "scatter",
    data: { datasets },
    options: {
      responsive: false,
      animation: false,
      devicePixelRatio: 1,
      events: [],
      layout: { padding: 2.5 },
      plugins: { legend: { display: false }, tooltip: { enabled: false } },
      scales: {
        x: { type: "linear", display: false, min: 0, max: 1 },
        y: { type: "linear", display: false, min: 0, max: 1, reverse: true },
      },
    },
    plugins: [fieldPlugin(inner, outer, us, rows, mask), arrowPlugin(lines, 8, 0.42, 1.1), framePart],
  });
}

// red overlay on panel (a)
const redBox = { ...lineDefaults, borderColor: "#ff0000", borderWidth: 4.5, tension: 0 };
const redDots = { ...redBox, borderWidth: 5, borderDash: [5, 5] };
const overlaysA = [
  { ...redBox, data: toXY(zoomBox1) },
  { ...redBox, data: toXY(zoomBox2) },
  { ...redBox, data: toXY(zoomBox3) },
  { ...redDots, data: toXY(leader1) },
  { ...redDots, data: toXY(leader2) },
  { ...redDots, data: toXY(leader3) },
  { ...redDots, data: toXY(leader4) },
  { ...redDots, data: toXY(leader5) },
  { ...redDots, data: toXY(leader6) },
];

drawPanel("panelA", fieldA, streamsA, coresA, 13, 32, 497, 9.938, overlaysA);
drawPanel("panelB", fieldB, streamsB, coresB, 8, 235, 294, 9.742, []);
drawBar("barA");
drawBar("barB");
drawInset("inset1", inset1U, inset1V, inset1Field, inset1Mask, inset1Lines, inset1Core, 6.5);
drawInset("inset2", inset2U, inset2V, inset2Field, inset2Mask, inset2Lines, inset2Core, 3.5);
drawInset("inset3", inset3U, inset3V, inset3Field, null, inset3Lines, inset3Core, 5);
</script>
</body>
</html>
